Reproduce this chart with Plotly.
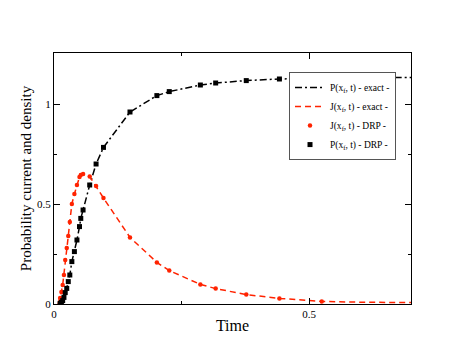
import plotly.graph_objects as go

# DRP sample times and values
time_drp = [0.012, 0.0145, 0.017, 0.0195, 0.022, 0.025, 0.028, 0.031, 0.035, 0.04,
            0.045, 0.05, 0.0525, 0.057, 0.07, 0.0825, 0.097, 0.149, 0.2017, 0.226,
            0.287, 0.317, 0.377, 0.442, 0.525]
current_drp = [0.03, 0.06, 0.095, 0.145, 0.22, 0.28, 0.34, 0.41, 0.50, 0.55,
               0.595, 0.635, 0.645, 0.65, 0.637, 0.59, 0.53, 0.333, 0.208, 0.167,
               0.098, 0.077, 0.047, 0.028, 0.013]
density_drp = [0.003, 0.008, 0.017, 0.033, 0.057, 0.078, 0.112, 0.145, 0.212, 0.262,
               0.32, 0.387, 0.428, 0.47, 0.595, 0.70, 0.783, 0.96, 1.042, 1.062,
               1.095, 1.105, 1.117, 1.125, 1.13]

# exact solution, same grid plus the ends
time_exact = [0.008] + time_drp + [0.6, 0.7]
current_exact = [0.0] + current_drp + [0.009, 0.007]
density_exact = [0.0] + density_drp + [1.132, 1.133]

RED = "rgb(255,35,0)"
FONT = "Liberation Serif, Times New Roman, serif"

fig = go.Figure()
fig.add_trace(go.Scatter(
    x=time_exact, y=density_exact, mode="lines",
    name="P(x<sub>f</sub>, t) - exact -",
    line=dict(color="black", width=1.5, dash="7px,3px,2px,3px"),
))
fig.add_trace(go.Scatter(
    x=time_exact, y=current_exact, mode="lines",
    name="J(x<sub>f</sub>, t) - exact -",
    line=dict(color=RED, width=1.5, dash="6px,4px"),
))
fig.add_trace(go.Scatter(
    x=time_drp, y=current_drp, mode="markers",
    name="J(x<sub>f</sub>, t) - DRP -",
    marker=dict(color=RED, size=4.5, symbol="circle"),
))
fig.add_trace(go.Scatter(
    x=time_drp, y=density_drp, mode="markers",
    name="P(x<sub>f</sub>, t) - DRP -",
    marker=dict(color="black", size=5, symbol="square"),
))

axis_common = dict(
    showgrid=False, zeroline=False, showline=True, linecolor="black", linewidth=1,
    mirror="allticks", ticks="inside", ticklen=6, tickcolor="black",
    tickfont=dict(family=FONT, size=11, color="black"),
)

# page body adds an 8px offset, so left/top margins are trimmed by that much
fig.update_layout(
    width=463, height=358,
    margin=dict(l=46, r=60, t=45, b=62),
    paper_bgcolor="white", plot_bgcolor="white",
    font=dict(family=FONT, color="black"),
    xaxis=dict(
        range=[0, 0.7], dtick=0.5, tick0=0,
        minor=dict(dtick=0.25, ticklen=3, ticks="inside", tickcolor="black"),
        title=dict(text="Time", font=dict(family=FONT, size=16), standoff=0),
        **axis_common,
    ),
    yaxis=dict(
        range=[0, 1.255], dtick=0.5, tick0=0,
        minor=dict(dtick=0.25, ticklen=3, ticks="inside", tickcolor="black"),
        title=dict(text="Probability current and density", font=dict(family=FONT, size=15), standoff=1),
        **axis_common,
    ),
    legend=dict(
        x=0.958, y=0.924, xanchor="right", yanchor="top",
        bgcolor="white", bordercolor="#555", borderwidth=1,
        font=dict(family=FONT, size=9.5), tracegroupgap=0,
        itemwidth=30,
    ),
    showlegend=True,
)

fig.write_html("out.html")
